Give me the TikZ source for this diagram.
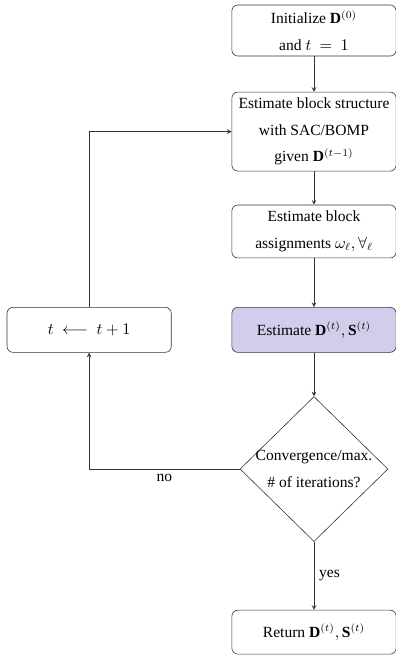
\documentclass[tikz,border=0pt]{standalone}
\usepackage{fontspec}
\setmainfont{Liberation Serif}
\usetikzlibrary{positioning,shapes.geometric}
\definecolor{lavender}{RGB}{208,206,234}
\tikzset{
  stepbox/.style={draw=black!80, rectangle, rounded corners=4pt, align=center, minimum width=111pt, inner sep=3pt, font=\fontsize{10.5}{18}\selectfont},
  decision/.style={draw=black!80, diamond, minimum width=100pt, minimum height=98pt, inner sep=0pt}
}
\begin{document}
\begin{tikzpicture}[x=0.676pt, y=-0.676pt, >=stealth]
    \useasboundingbox (0,0) rectangle (396,662);
    \node (init) [stepbox, minimum height=34.5pt] at (314,30.5) {Initialize $\mathbf{D}^{(0)}$\\and $t \ = \ 1$};
    \node (struct) [stepbox, minimum height=53.4pt, below=24pt of init] {Estimate block structure\\with SAC/BOMP\\given $\mathbf{D}^{(t-1)}$};
    \node (assign) [stepbox, minimum height=35.8pt, below=22.5pt of struct] {Estimate block\\assignments $\omega_\ell, \forall_\ell$};
    \node (est) [stepbox, fill=lavender, minimum height=30.4pt, below=33pt of assign] {Estimate $\mathbf{D}^{(t)}, \mathbf{S}^{(t)}$};
    \node (update) [stepbox, minimum height=30.4pt, left=40.6pt of est] {$t \ \longleftarrow \ t+1$};
    \node (conv) [decision, below=29.5pt of est] {};
    \node (convtext) [align=center, font=\fontsize{10.5}{18}\selectfont] at (conv) {Convergence/max.\\\# of iterations?};
    \node (ret) [stepbox, minimum height=29.7pt, below=46pt of conv] {Return $\mathbf{D}^{(t)}, \mathbf{S}^{(t)}$};

    \draw[->, black!80] (init) -- (struct);
    \draw[->, black!80] (struct) -- (assign);
    \draw[->, black!80] (assign) -- (est);
    \draw[->, black!80] (est) -- (conv);
    \draw[->, black!80] (conv) -- (ret) node[midway, right, black, font=\fontsize{10.5}{12}\selectfont] {yes};
    \draw[->, black!80] (conv.west) -- (conv.west -| update.south) node[midway, below, black, font=\fontsize{10.5}{12}\selectfont] {no} -- (update.south);
    \draw[->, black!80] (update.north) |- (struct.west);
\end{tikzpicture}
\end{document}
